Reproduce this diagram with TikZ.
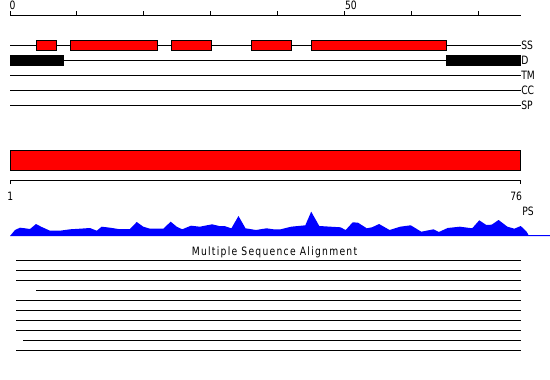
\documentclass[tikz,border=0pt]{standalone}
\usepackage{fontspec}
\setmainfont{DejaVu Sans}
\newfontfamily\lblfont[FakeStretch=0.8]{DejaVu Sans}
\newfontfamily\msafont[FakeStretch=0.8,LetterSpace=11]{DejaVu Sans}
\begin{document}
\begin{tikzpicture}[x=1pt,y=-1pt,line width=1pt,
  lbl/.style={font=\lblfont\fontsize{11.5}{12}\selectfont,inner sep=0pt},
  featbox/.style={fill=red,draw=black,line width=1pt},
  aln/.style={line width=1pt}]
\useasboundingbox (0,0) rectangle (550,380);
% top ruler
\draw (10,15) -- (520.5,15);
\foreach \k in {0,...,7} \draw (10+66.9*\k,11) -- (10+66.9*\k,15);
\node[lbl,anchor=base west] (r0) at (9,9.8) {0};
\node[lbl,anchor=base west] (r50) at (344.5,9.8) {50};
% tracks
\foreach \y/\t in {45/SS,60/D,75/TM,90/CC,105/SP}{
  \draw (10,\y) -- (520.5,\y);
  \node[lbl,anchor=west] (t\t) at (520.8,\y+0.3) {\t};
}
% secondary structure boxes
\foreach \a/\b in {36.5/56.5,70/157,171/211,251/291,311/446.5}
  \draw[featbox] (\a,40.5) rectangle (\b,50.5);
% disorder boxes
\fill[black] (10,55) rectangle (64,65.5);
\fill[black] (446,55) rectangle (521,65.5);
% big bar
\draw[featbox] (10,150.5) rectangle (520.5,170.5);
\draw (10,184) -- (10,180.5) -- (520.5,180.5) -- (520.5,184);
\node[lbl,anchor=base west] (s1) at (7,200.2) {1};
\node[lbl,anchor=base east] (s76) at (522.5,200.2) {76};
\node[lbl,anchor=base west] (ps) at (521.8,215) {PS};
% profile
\fill[blue] (10,236) -- (15,230) -- (20,227.7) -- (25,228.3) -- (30,229) -- (36,224)
 -- (41.7,227) -- (50,230.7) -- (60,230.7) -- (70,229.3) -- (80,228.7) -- (90,228)
 -- (96.7,230.7) -- (101.7,226.7) -- (110,227.7) -- (118.3,229) -- (130,229)
 -- (136.7,222) -- (143.3,226.7) -- (150,228.7) -- (163.3,228.7) -- (170.7,221.7)
 -- (176.7,226.7) -- (182.2,229.3) -- (191,225.7) -- (199.8,226.7) -- (212.1,224.3)
 -- (219.1,226) -- (224.4,226) -- (231.4,228.3) -- (238.5,216) -- (245.5,228.3)
 -- (256,230) -- (266.6,228.3) -- (273.6,229.3) -- (280.7,229.3) -- (291.2,226.7)
 -- (305.3,225.3) -- (311.2,211.7) -- (319.3,226) -- (340.4,227.3) -- (345.7,230)
 -- (352.7,222.3) -- (358,222.7) -- (366.8,228.3) -- (372,227.3) -- (379.1,224)
 -- (389.6,230) -- (400.2,226.7) -- (410.7,225.3) -- (421.3,231.7) -- (433.6,229.3)
 -- (438.9,232) -- (447.6,228) -- (459.9,226.7) -- (472.2,228.3) -- (479.3,220.3)
 -- (486.3,225) -- (491.6,224.7) -- (498.6,220) -- (507.4,226.7) -- (514.4,228.7)
 -- (520.7,226) -- (526.7,231.7) -- (528.4,235) -- (550,235) -- (550,236) -- cycle;
% alignment
\node[lbl,font=\msafont\fontsize{11.5}{12}\selectfont,anchor=base] (msa) at (274.5,255.5) {Multiple Sequence Alignment};
\foreach \y/\s in {260.5/16,270.5/16,280.5/16,290.5/36,300.5/16,310.5/16,320.5/16,330.5/16,340.5/23,350.5/16}
  \draw[aln] (\s,\y) -- (520.5,\y);
\end{tikzpicture}
\end{document}
